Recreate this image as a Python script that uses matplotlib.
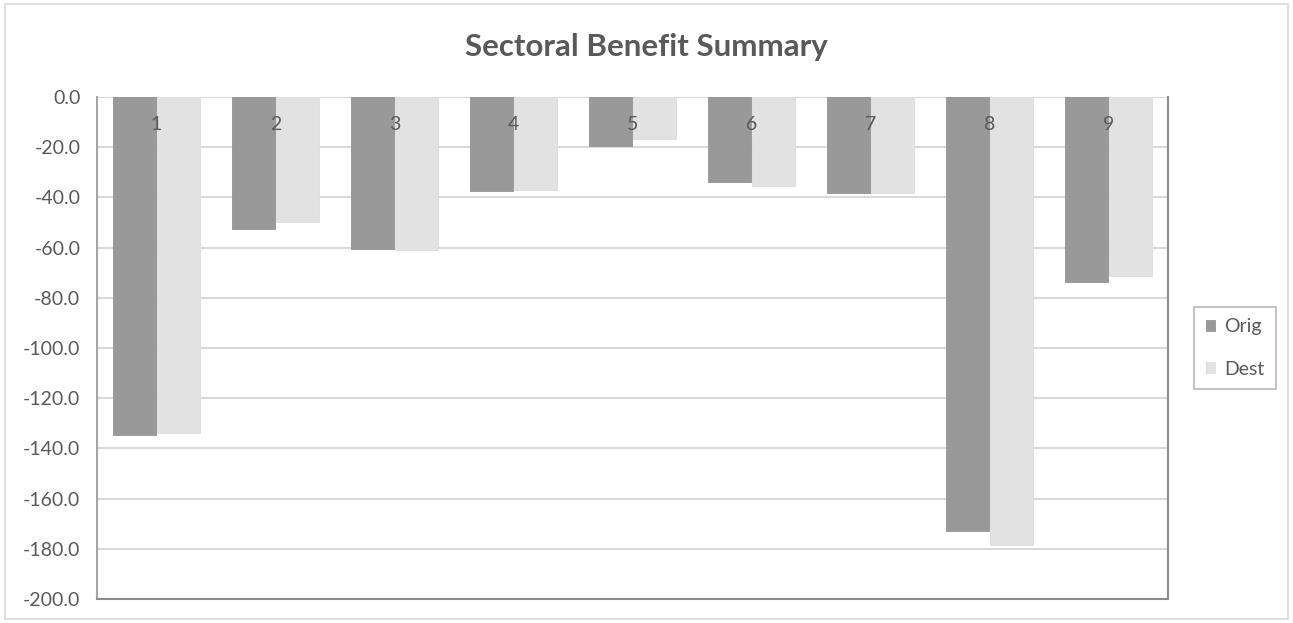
import numpy as np
import matplotlib
matplotlib.use("Agg")
import matplotlib.pyplot as plt
from matplotlib.patches import Rectangle

# chart data
sectors = ["1", "2", "3", "4", "5", "6", "7", "8", "9"]
orig = [-134.7, -52.5, -60.5, -37.3, -19.5, -34.0, -38.3, -172.9, -73.6]
dest = [-134.0, -49.7, -61.0, -37.2, -16.7, -35.5, -38.1, -178.5, -71.3]
series_names = ["Orig", "Dest"]

plt.rcParams['font.family'] = ['Lato', 'DejaVu Sans']
text_col = '#595959'

fig = plt.figure(figsize=(12.93, 6.23), dpi=100)
ax = fig.add_axes([97 / 1293, 1 - 599 / 623, (1168 - 97) / 1293, (599 - 97) / 623])

x = np.arange(len(sectors))
w = 0.365
b1 = ax.bar(x - 0.185, orig, width=w, color='#999999', edgecolor='#939393', linewidth=0.6,
            label=series_names[0], zorder=3)
b2 = ax.bar(x + 0.185, dest, width=w, color='#e2e2e2', edgecolor='#dedede', linewidth=0.6,
            label=series_names[1], zorder=3)

ax.set_xlim(-0.5, len(sectors) - 0.5)
ax.set_ylim(-200, 0)
ax.set_yticks(np.arange(-200, 1, 20))
ax.set_yticklabels([f"{v:.1f}" for v in np.arange(-200, 1, 20)])
ax.yaxis.grid(True, color='#d9d9d9', linewidth=1.5, zorder=0)
ax.set_axisbelow(True)

# category labels sit just under the zero line, on top of the bars
ax.set_xticks([])
for xi, lab in zip(x, sectors):
    ax.annotate(lab, xy=(xi, 0), xytext=(0, -28), textcoords='offset pixels',
                ha='center', va='center', fontsize=14, color=text_col, zorder=5)
ax.tick_params(axis='y', length=0, pad=12, labelsize=14, labelcolor=text_col)

ax.spines['top'].set_visible(False)
ax.spines['left'].set_color('#a6a6a6')
ax.spines['left'].set_linewidth(1.5)
ax.spines['bottom'].set_color('#8c8c8c')
ax.spines['bottom'].set_linewidth(1.5)
ax.spines['right'].set_color('#8c8c8c')
ax.spines['right'].set_linewidth(1.5)

fig.text(0.5, 1 - 47 / 623, "Sectoral Benefit Summary", ha='center', va='center',
         fontsize=22.5, fontweight='bold', color=text_col)

leg = fig.legend(handles=[b1, b2], loc='center left',
                 bbox_to_anchor=(1194 / 1293, 1 - 348 / 623),
                 fontsize=14, frameon=True, fancybox=False, handlelength=0.5,
                 handleheight=0.5, handletextpad=0.45, labelspacing=1.3,
                 borderpad=0.6, borderaxespad=0)
leg.get_frame().set_edgecolor('#a6a6a6')
leg.get_frame().set_linewidth(1.2)
for t in leg.get_texts():
    t.set_color(text_col)

# light border around the whole chart
fig.patches.append(Rectangle((5 / 1293, 4 / 623), 1283 / 1293, 615 / 623,
                             transform=fig.transFigure, fill=False,
                             edgecolor='#d9d9d9', linewidth=1.2))

fig.savefig("out.png", dpi=100)
